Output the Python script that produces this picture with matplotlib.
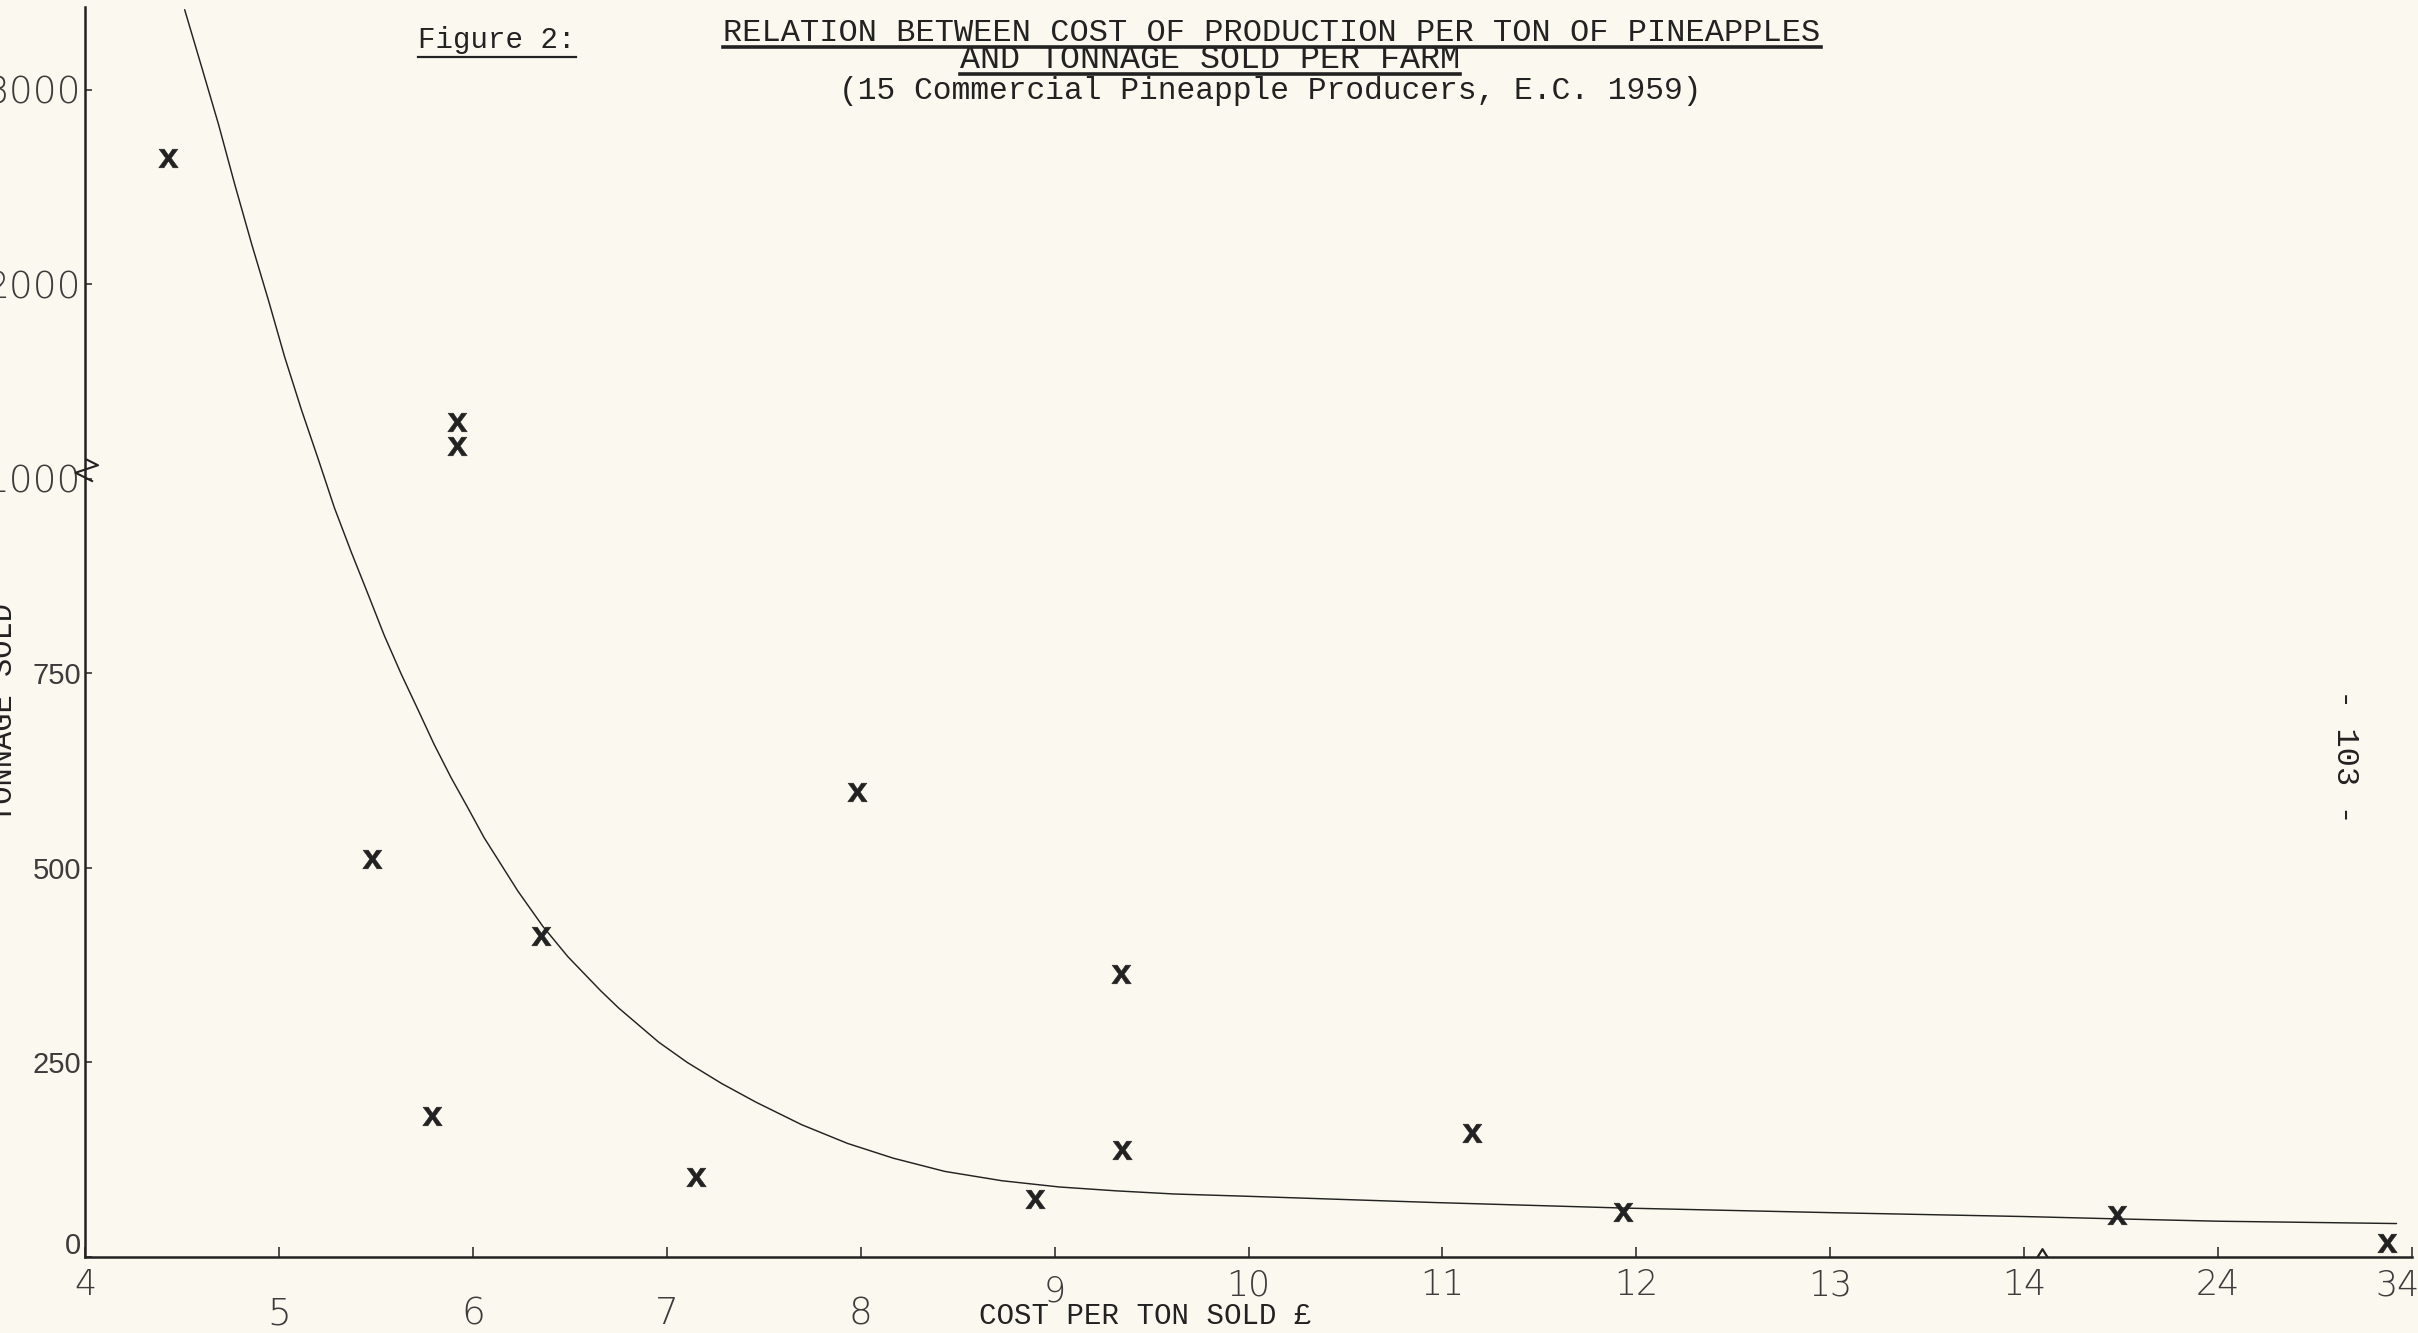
import numpy as np
import matplotlib
matplotlib.use("Agg")
import matplotlib.pyplot as plt
from matplotlib.lines import Line2D
from matplotlib.transforms import ScaledTranslation
from matplotlib.path import Path

# ---------------- data ----------------
cost_per_ton = [4.43, 5.92, 5.92, 5.48, 5.79, 6.35, 7.15, 7.98, 8.90, 9.34,
                9.35, 11.15, 11.93, 18.8, 32.7]
tonnage_sold = [2650, 1290, 1170, 512, 181, 413, 103, 598, 74, 364,
                138, 160, 58, 54, 18]

curve_cost = [4.514, 4.602, 4.689, 4.772, 4.859, 4.947, 5.029, 5.116, 5.204,
              5.286, 5.373, 5.461, 5.543, 5.631, 5.718, 5.800, 5.888, 5.975,
              6.058, 6.233, 6.361, 6.490, 6.660, 6.752, 6.959, 7.106, 7.283,
              7.460, 7.696, 7.932, 8.168, 8.434, 8.729, 9.024, 9.319, 9.614,
              10.0, 10.48, 10.96, 11.92, 13.0, 14.0, 18.8, 24.0, 33.2]
curve_tons = [3412, 3116, 2821, 2515, 2209, 1915, 1629, 1356, 1098,
              963, 906, 851, 799, 749, 703, 659, 616, 577,
              539, 470, 425, 386, 342, 320, 276, 250, 223,
              199, 170, 146, 127, 110, 98, 90, 85, 81,
              78, 74, 70, 63, 57, 52, 49, 46, 43]

x_ticks = [4, 5, 6, 7, 8, 9, 10, 11, 12, 13, 14, 24, 34]
x_tick_labels = ["4", "5", "6", "7", "8", "9", "10", "11", "12", "13", "14", "24", "34"]
y_ticks = [0, 250, 500, 750, 1000, 2000, 3000]
y_tick_labels = ["0", "250", "500", "750", "1000", "2000", "3000"]

title_fig = "Figure 2:"
title_l1 = "RELATION BETWEEN COST OF PRODUCTION PER TON OF PINEAPPLES"
title_l2 = "AND TONNAGE SOLD PER FARM"
title_l3 = "(15 Commercial Pineapple Producers, E.C. 1959)"
x_title = "COST PER TON SOLD \u00a3"
y_title = "TONNAGE SOLD"
page_no = "- 103 -"

# ---------------- broken-axis scales ----------------
X_BREAK, X_SQUEEZE = 14.0, 10.0
Y_BREAK, Y_SQUEEZE = 1000.0, 4.0

def x_fwd(x):
    x = np.asarray(x, dtype=float)
    return np.where(x <= X_BREAK, x, X_BREAK + (x - X_BREAK) / X_SQUEEZE)

def x_inv(u):
    u = np.asarray(u, dtype=float)
    return np.where(u <= X_BREAK, u, X_BREAK + (u - X_BREAK) * X_SQUEEZE)

def y_fwd(y):
    y = np.asarray(y, dtype=float)
    return np.where(y <= Y_BREAK, y, Y_BREAK + (y - Y_BREAK) / Y_SQUEEZE)

def y_inv(v):
    v = np.asarray(v, dtype=float)
    return np.where(v <= Y_BREAK, v, Y_BREAK + (v - Y_BREAK) * Y_SQUEEZE)

# ---------------- style ----------------
BG = "#fbf9ef"
INK = "#222222"
LETTER = "#3c3c3c"
TYPE = ["Liberation Mono", "DejaVu Sans Mono"]
plt.rcParams["mathtext.fontset"] = "custom"
plt.rcParams["mathtext.tt"] = "Liberation Mono:bold"

W, H = 2418, 1333
fig = plt.figure(figsize=(W / 100, H / 100), dpi=100, facecolor=BG)
ax = fig.add_axes([85 / W, 76 / H, (2412 - 85) / W, (1257 - 7) / H])
ax.set_facecolor(BG)

ax.set_xscale("function", functions=(x_fwd, x_inv))
ax.set_yscale("function", functions=(y_fwd, y_inv))
ax.set_xlim(4, 34)
ax.set_ylim(0, 3426)

# curve and points
ax.plot(curve_cost, curve_tons, color=INK, lw=1.05, solid_capstyle="round",
        solid_joinstyle="round")
ax.plot(cost_per_ton, tonnage_sold, ls="none", marker=r"$\mathtt{x}$",
        ms=14, color=INK, mew=0.4)

# spines
for s in ("top", "right"):
    ax.spines[s].set_visible(False)
for s in ("left", "bottom"):
    ax.spines[s].set_linewidth(1.8)
    ax.spines[s].set_color(INK)

# ticks
ax.set_xticks(x_ticks)
ax.set_xticklabels(x_tick_labels)
ax.set_yticks(y_ticks)
ax.set_yticklabels(y_tick_labels)
ax.minorticks_off()
ax.tick_params(axis="x", direction="in", length=7, width=1.1, color=INK,
               pad=8, labelsize=25, labelcolor=LETTER)
ax.tick_params(axis="y", direction="in", length=5, width=1.1, color=INK,
               pad=3, labelsize=27, labelcolor=LETTER)
for lab in ax.get_xticklabels():
    lab.set_fontfamily(["DejaVu Sans"])
    lab.set_fontweight("light")
for lab in ax.get_yticklabels():
    if len(lab.get_text()) < 4:
        lab.set_fontfamily(["Liberation Sans", "DejaVu Sans"])
        lab.set_fontsize(21)
    else:
        lab.set_fontfamily(["DejaVu Sans"])
        lab.set_fontweight("light")

# hand-lettered labels 5..8 are larger and sit lower; 9 a little lower;
# 34 sits left of its tick
low_shift = ScaledTranslation(0, -28 / 100, fig.dpi_scale_trans)
nine_shift = ScaledTranslation(0, -6 / 100, fig.dpi_scale_trans)
left_shift = ScaledTranslation(-14 / 100, 0, fig.dpi_scale_trans)
for lab in ax.get_xticklabels():
    txt = lab.get_text()
    if txt in ("5", "6", "7", "8"):
        lab.set_fontsize(27)
        lab.set_transform(lab.get_transform() + low_shift)
    elif txt == "9":
        lab.set_transform(lab.get_transform() + nine_shift)
    elif txt == "34":
        lab.set_transform(lab.get_transform() + left_shift)
up_shift = ScaledTranslation(0, 14 / 100, fig.dpi_scale_trans)
for lab in ax.get_yticklabels():
    if lab.get_text() == "0":
        lab.set_transform(lab.get_transform() + up_shift)

# axis titles
ax.set_xlabel(x_title, fontsize=21, family=TYPE, color=INK)
ax.xaxis.set_label_coords((1145 - 85) / (2412 - 85), -(1316 - 1257) / 1250)
ax.xaxis.label.set_va("center")
ax.set_ylabel(y_title, fontsize=22, family=TYPE, color=INK)
ax.yaxis.set_label_coords((4 - 85) / (2412 - 85), (1257 - 713) / 1250)
ax.yaxis.label.set_va("center")

# axis break marks
xbrk = Path([(-1.0, 0.0), (0.0, 1.6), (1.0, 0.0)], [Path.MOVETO, Path.LINETO, Path.LINETO])
ax.plot([14.9], [0], ls="none", marker=xbrk, ms=12, mfc="none", mec=INK,
        mew=1.6, clip_on=False)
ybrk = Path([(0.0, 1.0), (1.0, 0.5), (-0.8, -0.1), (0.6, -0.8)],
            [Path.MOVETO, Path.LINETO, Path.LINETO, Path.LINETO])
ax.plot([4.0], [1040], ls="none", marker=ybrk, ms=18, mfc="none", mec=INK,
        mew=1.5, clip_on=False)

# titles (placed on their baselines; underlines drawn just below the baseline)
t_fig = fig.text(497 / W, 1 - 48 / H, title_fig, ha="center", va="baseline",
                 fontsize=21, family=TYPE, color=INK)
t1 = fig.text(1272 / W, 1 - 41 / H, title_l1, ha="center", va="baseline",
              fontsize=23, family=TYPE, color=INK)
t2 = fig.text(1210 / W, 1 - 68 / H, title_l2, ha="center", va="baseline",
              fontsize=24, family=TYPE, color=INK)
t3 = fig.text(1270 / W, 1 - 99 / H, title_l3, ha="center", va="baseline",
              fontsize=22.5, family=TYPE, color=INK)
fig.text(2345 / W, 1 - 756 / H, page_no, ha="center", va="center",
         rotation=-90, fontsize=23, family=TYPE, color=INK)

fig.canvas.draw()
rend = fig.canvas.get_renderer()
for t, lw, below in ((t_fig, 1.6, 9), (t1, 2.6, 6), (t2, 2.6, 6)):
    bb = t.get_window_extent(rend)
    base_px = t.get_position()[1] * H
    y = (base_px - below) / H
    fig.add_artist(Line2D([bb.x0 / W, bb.x1 / W], [y, y], color=INK, lw=lw,
                          transform=fig.transFigure))

fig.savefig("out.png", dpi=100, facecolor=BG)
